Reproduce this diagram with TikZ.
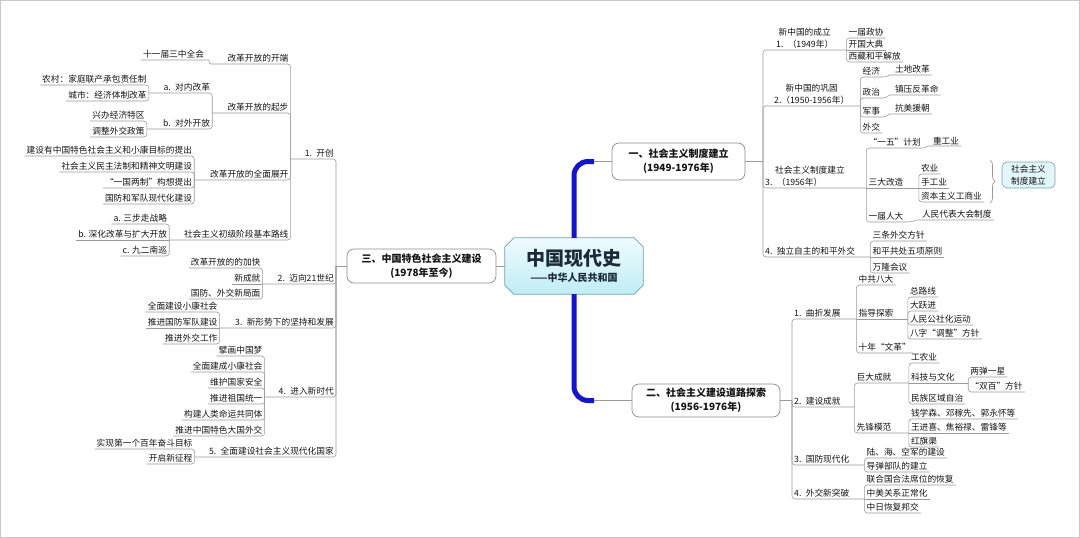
\documentclass[tikz,border=0pt]{standalone}
\usepackage{fontspec}
\setmainfont{Noto Sans CJK SC}
\usetikzlibrary{decorations.pathreplacing,backgrounds}
\definecolor{linegray}{HTML}{9A9A9A}
\definecolor{boxgray}{HTML}{8C8C8C}
\definecolor{cyanA}{HTML}{EEFBFD}
\definecolor{cyanB}{HTML}{BFEDF4}
\definecolor{cboxfill}{HTML}{E2F7FA}
\definecolor{cboxdraw}{HTML}{6FA9B3}
\definecolor{barblue}{HTML}{1212D8}
\definecolor{txt}{HTML}{141414}
\definecolor{titletxt}{HTML}{1B2A36}
\newcommand{\fsz}{\fontsize{8.7pt}{10pt}\selectfont}
\begin{document}
\begin{tikzpicture}[x=1pt,y=-1pt,
  every node/.style={font=\fsz, text=txt},
  lt/.style={anchor=south east, inner xsep=2pt, inner ysep=1.2pt},
  ltp/.style={lt, text width=#1, align=right},
  rt/.style={anchor=south west, inner xsep=2pt, inner ysep=1.2pt},
  rtp/.style={rt, text width=#1, align=left},
  two/.style={font=\fontsize{8.7pt}{12pt}\selectfont},
  conn/.style={draw=linegray, line width=0.6pt, rounded corners=3pt},
  topic/.style={draw=boxgray, fill=white, rounded corners=7pt, line width=0.7pt,
    font=\fontsize{10pt}{14pt}\selectfont\bfseries, align=center, inner sep=0pt},
  bluebar/.style={draw=barblue, line width=5pt, rounded corners=14pt},
  cbox/.style={draw=cboxdraw, fill=cboxfill, rounded corners=5pt, line width=0.6pt,
    font=\fontsize{8.7pt}{12pt}\selectfont, align=center, minimum width=53pt, minimum height=26pt, inner sep=1pt},
]
\useasboundingbox (0,0) rectangle (1080,538);
\draw[draw=black!22, line width=0.8pt] (0.6,0.6) rectangle (1079.4,537.4);

% ---------- central node ----------
\node[minimum width=138pt, minimum height=56pt, inner sep=0pt, align=center] (c) at (574,266)
  {{\fontsize{19pt}{22pt}\selectfont\bfseries\color{titletxt}中国现代史}\\[4pt]
   {\fontsize{10pt}{12pt}\selectfont\bfseries\color{titletxt}——中华人民共和国}};
\begin{pgfonlayer}{background}
\path[draw=boxgray!80!cyan, line width=0.7pt, top color=cyanA, bottom color=cyanB]
  ([xshift=9pt]c.north west) -- ([xshift=-9pt]c.north east) -- ([yshift=-9pt]c.north east)
  -- ([yshift=9pt]c.south east) -- ([xshift=-9pt]c.south east) -- ([xshift=9pt]c.south west)
  -- ([yshift=9pt]c.south west) -- ([yshift=-9pt]c.north west) -- cycle;
\end{pgfonlayer}

% ---------- main topics ----------
\node[topic, minimum width=149pt, minimum height=34pt] (n3) at (421.5,266) {三、中国特色社会主义建设\\(1978年至今)};
\node[topic, minimum width=133pt, minimum height=37pt] (n1) at (678.5,161.5) {一、社会主义制度建立\\(1949-1976年)};
\node[topic, minimum width=148pt, minimum height=33pt] (n2) at (706,400.5) {二、社会主义建设道路探索\\(1956-1976年)};

\coordinate (t1) at (594,161.5);
\coordinate (t2) at (594,400.5);
\draw[bluebar] (c.north) |- (t1);
\draw[bluebar] (c.south) |- (t2);
\draw[conn] (t1) -- (n1.west);
\draw[conn] (t2) -- (n2.west);
\draw[conn] (c.west) -- (n3.east);

% ---------- left tree ----------
\coordinate (b3) at (336,266);
\draw[conn] (n3.west) -- (b3);
\node[ltp=41pt] (k1) at (b3 |- 0,159) {1. 开创};
\node[ltp=69pt] (k2) at (b3 |- 0,284) {2. 迈向21世纪};
\node[ltp=112pt] (k3) at (b3 |- 0,328) {3. 新形势下的坚持和发展};
\node[ltp=67pt] (k4) at (b3 |- 0,397) {4. 进入新时代};
\node[ltp=137pt] (k5) at (b3 |- 0,457) {5. 全面建设社会主义现代化国家};

\node[ltp=75pt] (k11) at (k1.south west |- 0,64) {改革开放的开端};
\node[lt, xshift=-5pt] (k111) at (k11.south west |- 0,60) {十一届三中全会};
\node[ltp=74pt] (k12) at (k1.south west |- 0,113) {改革开放的起步};
\node[ltp=59pt] (k121) at (k12.south west |- 0,93) {a. 对内改革};
\node[lt] (k1211) at (k121.south west |- 0,85) {农村：家庭联产承包责任制};
\node[lt] (k1212) at (k121.south west |- 0,101) {城市：经济体制改革};
\node[ltp=61pt] (k122) at (k12.south west |- 0,129) {b. 对外开放};
\node[lt] (k1221) at (k122.south west |- 0,121) {兴办经济特区};
\node[lt] (k1222) at (k122.south west |- 0,137) {调整外交政策};
\node[ltp=92pt] (k13) at (k1.south west |- 0,180) {改革开放的全面展开};
\node[lt] (k131) at (k13.south west |- 0,156) {建设有中国特色社会主义和小康目标的提出};
\node[lt] (k132) at (k13.south west |- 0,172) {社会主义民主法制和精神文明建设};
\node[lt] (k133) at (k13.south west |- 0,188) {“一国两制”构想提出};
\node[lt] (k134) at (k13.south west |- 0,204) {国防和军队现代化建设};
\node[ltp=117pt] (k14) at (k1.south west |- 0,240) {社会主义初级阶段基本路线};
\node[lt] (k141) at (k14.south west |- 0,224) {a. 三步走战略};
\node[lt] (k142) at (k14.south west |- 0,240) {b. 深化改革与扩大开放};
\node[lt] (k143) at (k14.south west |- 0,256) {c. 九二南巡};

\node[lt] (k21) at (k2.south west |- 0,268) {改革开放的的加快};
\node[lt] (k22) at (k2.south west |- 0,284) {新成就};
\node[lt] (k23) at (k2.south west |- 0,299) {国防、外交新局面};
\node[lt] (k31) at (k3.south west |- 0,312) {全面建设小康社会};
\node[lt] (k32) at (k3.south west |- 0,328) {推进国防军队建设};
\node[lt] (k33) at (k3.south west |- 0,344) {推进外交工作};
\node[lt] (k41) at (k4.south west |- 0,356) {擘画中国梦};
\node[lt] (k42) at (k4.south west |- 0,372) {全面建成小康社会};
\node[lt] (k43) at (k4.south west |- 0,388) {维护国家安全};
\node[lt] (k44) at (k4.south west |- 0,404) {推进祖国统一};
\node[lt] (k45) at (k4.south west |- 0,420) {构建人类命运共同体};
\node[lt] (k46) at (k4.south west |- 0,436) {推进中国特色大国外交};
\node[lt] (k51) at (k5.south west |- 0,449) {实现第一个百年奋斗目标};
\node[lt] (k52) at (k5.south west |- 0,464) {开启新征程};

\foreach \c in {k1,k2,k3,k4,k5}
  \draw[conn] (b3) -- (\c.south east) -- (\c.south west);
\foreach \p/\c in {k1/k11,k1/k12,k1/k13,k1/k14,k12/k121,k12/k122,k121/k1211,k121/k1212,
    k122/k1221,k122/k1222,k13/k131,k13/k132,k13/k133,k13/k134,k14/k141,k14/k143,
    k2/k21,k2/k23,k3/k31,k3/k33,k4/k41,k4/k42,k4/k43,k4/k44,k4/k45,k4/k46,k5/k51,k5/k52}
  \draw[conn] (\p.south west) -- (\c.south east) -- (\c.south west);
\foreach \c in {k142,k22,k32}
  \draw[conn] (\c.south east) -- (\c.south west);
\draw[conn] (k11.south west) .. controls +(-3,0) and +(3,0) .. (k111.south east) -- (k111.south west);

% ---------- right tree (一) ----------
\coordinate (b1) at (763,161.5);
\draw[conn] (n1.east) -- (b1);
\node[rtp=79pt, two, align=center] (r1) at (b1 |- 0,50) {新中国的成立\\1.\enspace（1949年）};
\node[rt] (r11) at (r1.south east |- 0,38) {一届政协};
\node[rt] (r12) at (r1.south east |- 0,50) {开国大典};
\node[rt] (r13) at (r1.south east |- 0,62) {西藏和平解放};

\node[rtp=93pt, two, align=center] (r2) at (b1 |- 0,106) {新中国的巩固\\2.（1950-1956年）};
\node[rtp=18pt] (r21) at (r2.south east |- 0,77) {经济};
\node[rt, xshift=10pt] (r211) at (r21.south east |- 0,75) {土地改革};
\node[rtp=18pt] (r22) at (r2.south east |- 0,98) {政治};
\node[rt, xshift=10pt] (r221) at (r22.south east |- 0,95) {镇压反革命};
\node[rtp=18pt] (r23) at (r2.south east |- 0,117) {军事};
\node[rt, xshift=10pt] (r231) at (r23.south east |- 0,114) {抗美援朝};
\node[rt] (r24) at (r2.south east |- 0,133) {外交};

\node[rtp=99pt, two] (r3) at (b1 |- 0,188) {\hspace*{10pt}社会主义制度建立\\3.\enspace（1956年）};
\node[rtp=52pt] (r31) at (r3.south east |- 0,148) {“一五”计划};
\node[rt, xshift=8pt] (r311) at (r31.south east |- 0,146) {重工业};
\node[rtp=48pt] (r32) at (r3.south east |- 0,188) {三大改造};
\node[rt] (r321) at (r32.south east |- 0,174) {农业};
\node[rt] (r322) at (r32.south east |- 0,188) {手工业};
\node[rt] (r323) at (r32.south east |- 0,202) {资本主义工商业};
\node[rtp=37pt] (r33) at (r3.south east |- 0,222) {一届人大};
\node[rt, xshift=12pt] (r331) at (r33.south east |- 0,220) {人民代表大会制度};
\coordinate (brA) at (990,160);
\coordinate (brB) at (990,203);
\draw[draw=linegray, line width=0.7pt, decorate, decoration={brace, amplitude=5pt}] (brA) -- (brB);
\node[cbox] (r3b) at (1028.5,175) {社会主义\\制度建立};

\node[rtp=103pt] (r4) at (b1 |- 0,257) {4. 独立自主的和平外交};
\node[rt] (r41) at (r4.south east |- 0,241) {三条外交方针};
\node[rt] (r42) at (r4.south east |- 0,257) {和平共处五项原则};
\node[rt] (r43) at (r4.south east |- 0,273) {万隆会议};

% ---------- right tree (二) ----------
\coordinate (b2) at (792,400.5);
\draw[conn] (n2.east) -- (b2);
\node[rtp=60pt] (s1) at (b2 |- 0,319) {1. 曲折发展};
\node[rt] (s11) at (s1.south east |- 0,285) {中共八大};
\node[rtp=47pt] (s12) at (s1.south east |- 0,319) {指导探索};
\node[rt] (s121) at (s12.south east |- 0,297) {总路线};
\node[rt] (s122) at (s12.south east |- 0,311) {大跃进};
\node[rt] (s123) at (s12.south east |- 0,325) {人民公社化运动};
\node[rt] (s124) at (s12.south east |- 0,339) {八字“调整”方针};
\node[rt] (s13) at (s1.south east |- 0,353) {十年“文革”};

\node[rtp=58pt] (s2) at (b2 |- 0,407) {2. 建设成就};
\node[rtp=50pt] (s21) at (s2.south east |- 0,383) {巨大成就};
\node[rt] (s211) at (s21.south east |- 0,363) {工农业};
\node[rtp=55pt] (s212) at (s21.south east |- 0,383) {科技与文化};
\node[rt] (s2121) at (s212.south east |- 0,377) {两弹一星};
\node[rt] (s2122) at (s212.south east |- 0,392) {“双百”方针};
\node[rt] (s213) at (s21.south east |- 0,404) {民族区域自治};
\node[rtp=50pt] (s22) at (s2.south east |- 0,433) {先锋模范};
\node[rt] (s221) at (s22.south east |- 0,419) {钱学森、邓稼先、郭永怀等};
\node[rt] (s222) at (s22.south east |- 0,433) {王进喜、焦裕禄、雷锋等};
\node[rt] (s223) at (s22.south east |- 0,447) {红旗渠};

\node[rtp=68pt] (s3) at (b2 |- 0,465) {3. 国防现代化};
\node[rt] (s31) at (s3.south east |- 0,458) {陆、海、空军的建设};
\node[rt] (s32) at (s3.south east |- 0,472) {导弹部队的建立};
\node[rtp=68pt] (s4) at (b2 |- 0,499) {4. 外交新突破};
\node[rt] (s41) at (s4.south east |- 0,485) {联合国合法席位的恢复};
\node[rt] (s42) at (s4.south east |- 0,499) {中美关系正常化};
\node[rt] (s43) at (s4.south east |- 0,513) {中日恢复邦交};

\foreach \c in {r1,r2,r3,r4}
  \draw[conn] (b1) -- (\c.south west) -- (\c.south east);
\foreach \c in {s1,s2,s3,s4}
  \draw[conn] (b2) -- (\c.south west) -- (\c.south east);
\foreach \p/\c in {r1/r11,r1/r13,r2/r21,r2/r22,r2/r23,r2/r24,r3/r31,r3/r33,r32/r321,r32/r323,
    r4/r41,r4/r43,s1/s11,s1/s13,s12/s121,s12/s122,s12/s123,s12/s124,s2/s21,s2/s22,
    s21/s211,s21/s213,s212/s2121,s212/s2122,s22/s221,s22/s223,s3/s31,s3/s32,s4/s41,s4/s43}
  \draw[conn] (\p.south east) -- (\c.south west) -- (\c.south east);
\foreach \c in {r12,r32,r322,r42,s12,s212,s222,s42}
  \draw[conn] (\c.south west) -- (\c.south east);
\foreach \p/\c in {r21/r211,r22/r221,r23/r231,r31/r311,r33/r331}
  \draw[conn] (\p.south east) .. controls +(5,0) and +(-5,0) .. (\c.south west) -- (\c.south east);
\end{tikzpicture}
\end{document}
